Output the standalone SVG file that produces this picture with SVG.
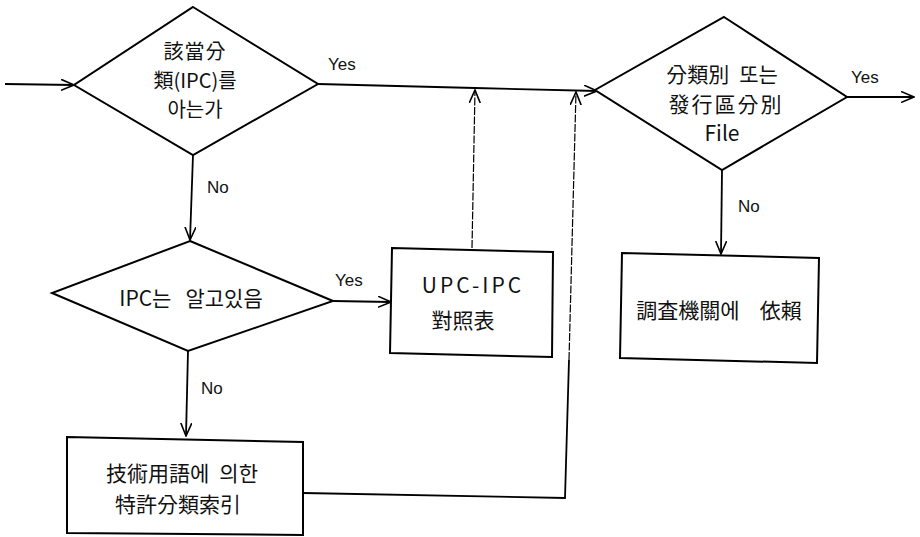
<svg xmlns="http://www.w3.org/2000/svg" width="920" height="537" viewBox="0 0 920 537">
<defs>
<marker id="arr" viewBox="0 0 14 12" refX="13" refY="6" markerWidth="14" markerHeight="12" markerUnits="userSpaceOnUse" orient="auto">
<polyline points="0,0.5 13,6 0,11.5" fill="none" stroke="#000" stroke-width="1.6"/>
</marker>
</defs>
<style>
.shape{fill:#fff;stroke:#000;stroke-width:2}
.line{fill:none;stroke:#000;stroke-width:1.8}
.thin{fill:none;stroke:#000;stroke-width:1.2;stroke-dasharray:8 1.5}
.t{font-family:"Noto Sans CJK KR","Noto Sans CJK TC",sans-serif;font-size:21px;fill:#111;text-anchor:middle}
.s{font-size:20px}
.l{font-family:"Liberation Sans",Arial,sans-serif;font-size:17px;fill:#111}
</style>
<rect width="920" height="537" fill="#fff"/>
<g id="connectors">
<line class="line" x1="5" y1="84" x2="74" y2="85" marker-end="url(#arr)"/>
<polyline class="line" points="318,84 475,88 597,91" marker-end="url(#arr)"/>
<line class="line" x1="847" y1="97" x2="914" y2="97" marker-end="url(#arr)"/>
<line class="line" x1="722" y1="170" x2="721" y2="254" marker-end="url(#arr)"/>
<line class="line" x1="193" y1="155" x2="190" y2="240" marker-end="url(#arr)"/>
<line class="line" x1="333" y1="301" x2="391" y2="302" marker-end="url(#arr)"/>
<line class="thin" x1="472" y1="248" x2="475" y2="90" marker-end="url(#arr)"/>
<line class="line" x1="188" y1="351" x2="186" y2="436" marker-end="url(#arr)"/>
<polyline class="line" points="303,493 565,498 569,360"/>
<line class="thin" x1="569" y1="360" x2="576" y2="92" marker-end="url(#arr)"/>
</g>
<g id="d1">
<polygon class="shape" points="193,7 318,84 193,155 74,85"/>
<text class="t s" x="195" y="59" style="letter-spacing:1px">該當分</text>
<text class="t s" x="195" y="88">類(IPC)를</text>
<text class="t s" x="195" y="117">아는가</text>
</g>
<g id="d2">
<polygon class="shape" points="724,17 847,97 722,170 595,90"/>
<text class="t" x="722" y="82">分類別<tspan dx="10">또는</tspan></text>
<text class="t" x="726" y="112" style="letter-spacing:2px">發行區分別</text>
<text class="t" x="722" y="141">File</text>
</g>
<g id="d3">
<polygon class="shape" points="190,241 333,301 188,351 52,293"/>
<text class="t" x="191" y="306">IPC는<tspan dx="14">알고있음</tspan></text>
</g>
<g id="b1">
<polygon class="shape" points="392,248 553,252 552,357 390,353"/>
<text class="t" x="473" y="293" style="letter-spacing:3px">UPC-IPC</text>
<text class="t" x="463" y="328">對照表</text>
</g>
<g id="b2">
<polygon class="shape" points="622,253 819,258 817,363 620,358"/>
<text class="t" x="719" y="318">調査機關에<tspan dx="20">依賴</tspan></text>
</g>
<g id="b3">
<polygon class="shape" points="67,437 303,442 303,535 67,533"/>
<text class="t" x="182" y="481">技術用語에<tspan dx="10">의한</tspan></text>
<text class="t" x="178" y="512">特許分類索引</text>
</g>
<g id="labels">
<text class="l" x="328" y="70">Yes</text>
<text class="l" x="851" y="83">Yes</text>
<text class="l" x="207" y="193">No</text>
<text class="l" x="738" y="212">No</text>
<text class="l" x="335" y="286">Yes</text>
<text class="l" x="201" y="394">No</text>
</g>
</svg>
